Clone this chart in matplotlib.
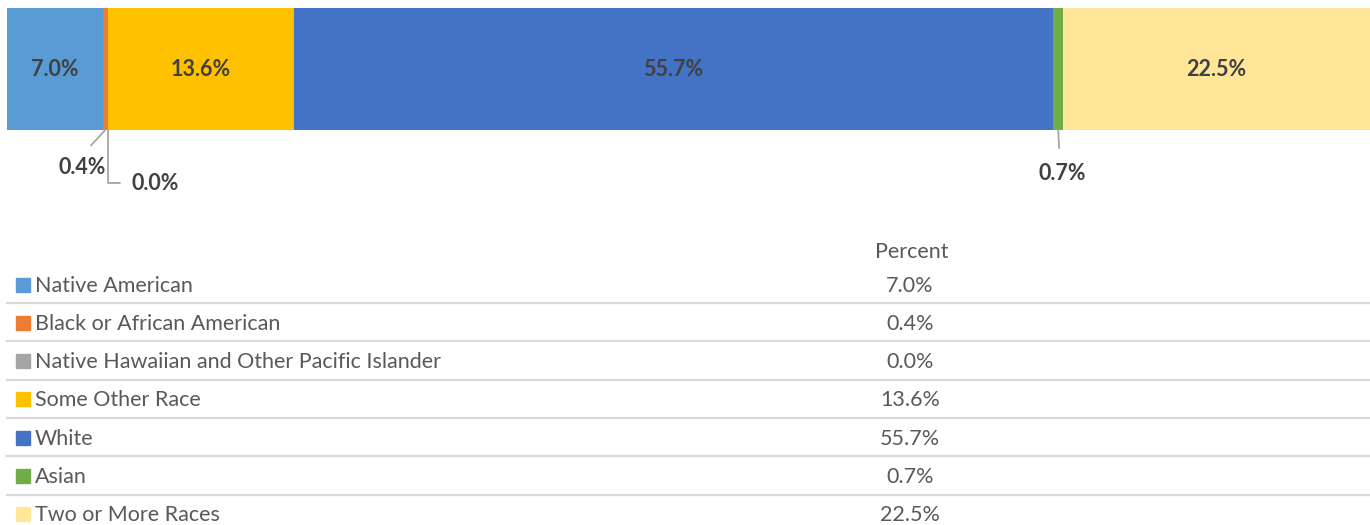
import matplotlib.pyplot as plt

# data
categories = ["Native American", "Black or African American",
              "Native Hawaiian and Other Pacific Islander", "Some Other Race",
              "White", "Asian", "Two or More Races"]
percents = [7.0, 0.4, 0.0, 13.6, 55.7, 0.7, 22.5]
colors = ["#5B9BD5", "#ED7D31", "#A5A5A5", "#FFC000", "#4472C4", "#70AD47", "#FFE699"]

# small segments get a leader line: (dx, dy) offset in pixels, connection style
leaders = {
    1: ((-23, -38), "arc3"),
    2: ((47, -53), "angle,angleA=0,angleB=90,rad=0"),
    5: ((4, -44), "arc3"),
}

plt.rcParams["font.family"] = ["Lato", "DejaVu Sans"]

W, H = 1370, 525
fig = plt.figure(figsize=(W / 100, H / 100), dpi=100)

# stacked bar
ax = fig.add_axes([7 / W, (H - 130) / H, 1363 / W, 122 / H])
left = 0
for i, (cat, val, col) in enumerate(zip(categories, percents, colors)):
    ax.barh(0, val, left=left, height=1, color=col, edgecolor="none")
    mid = left + val / 2
    label = f"{val:.1f}%"
    if i in leaders:
        (dx, dy), cstyle = leaders[i]
        ax.annotate(label, xy=(mid, -0.5), xytext=(dx, dy), textcoords="offset pixels",
                    ha="center", va="center", fontsize=15.5, fontweight="bold",
                    color="#404040", annotation_clip=False,
                    arrowprops=dict(arrowstyle="-", color="#a6a6a6", lw=1.3,
                                    shrinkA=9 if cstyle == "arc3" else 6, shrinkB=0,
                                    connectionstyle=cstyle,
                                    relpos=(0.45, 1) if cstyle == "arc3" else (0, 0.5)))
    else:
        ax.text(mid, 0, label, ha="center", va="center", fontsize=15.5,
                fontweight="bold", color="#404040")
    left += val
ax.set_xlim(0, sum(percents))
ax.set_ylim(-0.5, 0.5)
ax.axis("off")

# data table with legend keys
tab = fig.add_axes([0, 0, 1, 1])
tab.set_xlim(0, W)
tab.set_ylim(H, 0)
tab.axis("off")
tab.text(912, 251.5, "Percent", ha="center", va="center", fontsize=15.5, color="#595959")
row_h = 38.3
for i, (cat, val, col) in enumerate(zip(categories, percents, colors)):
    y = 284 + i * row_h
    tab.add_patch(plt.Rectangle((16, y - 6.5), 14, 14, color=col))
    tab.text(35, y + 1.5, cat, ha="left", va="center", fontsize=15.5, color="#595959")
    tab.text(910, y + 1.5, f"{val:.1f}%", ha="center", va="center", fontsize=15.5,
             color="#595959")
    if i < len(categories) - 1:
        tab.plot([7, W], [y + 19, y + 19], color="#d9d9d9", lw=1.6)

fig.savefig("out.png", dpi=100)
